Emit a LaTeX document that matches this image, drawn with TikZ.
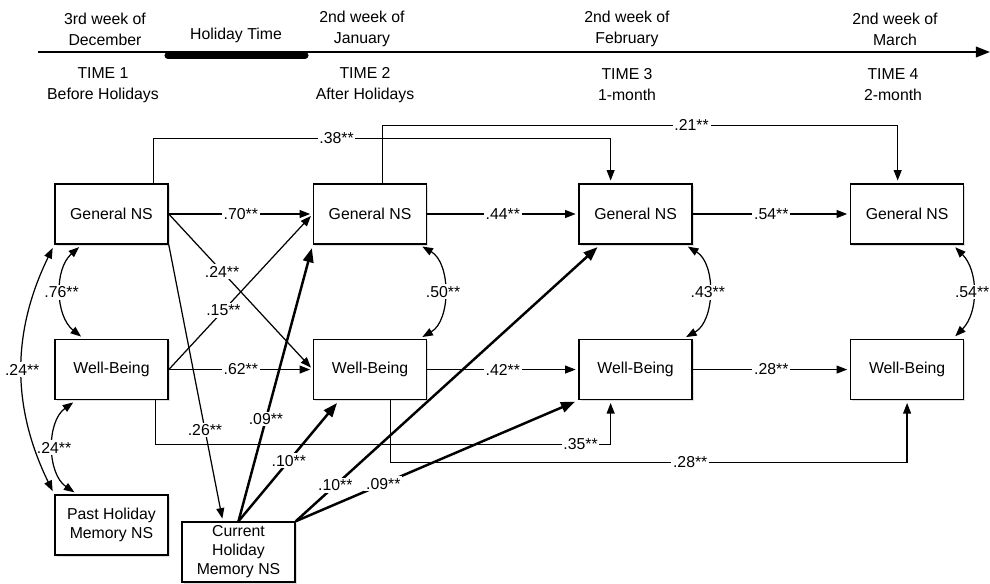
\documentclass[tikz,border=0pt]{standalone}
\usepackage{fontspec}
\setmainfont{Liberation Sans}
\usetikzlibrary{positioning}
\usetikzlibrary{arrows.meta}
\usetikzlibrary{shadows}

\begin{document}
\begin{tikzpicture}[x=0.02cm, y=-0.02cm, font=\fontsize{9}{10.8}\selectfont,
  var/.style={draw, line width=0.9pt, fill=white, minimum width=2.26cm, minimum height=1.2cm, inner sep=0pt, align=center,
              drop shadow={shadow xshift=1pt, shadow yshift=-1pt, opacity=0.25}},
  arr/.style={line width=0.7pt, -{Triangle[length=6pt,width=4.5pt]}, shorten >=1.5pt},
  thickarr/.style={line width=1.4pt, -{Triangle[length=8pt,width=6pt]}, shorten >=2pt},
  cov/.style={line width=0.7pt, {Triangle[length=6pt,width=4.5pt]}-{Triangle[length=6pt,width=4.5pt]}, shorten <=2pt, shorten >=2pt},
  coef/.style={fill=white, inner sep=1pt},
  when/.style={align=center, font=\fontsize{9}{12}\selectfont}]
%\draw [help lines] (0,0) grid (990,584);
\useasboundingbox (0,0) rectangle (990,584);

% Time line
\coordinate (tl0) at (38,52);
\coordinate (tl1) at (990,52);
\coordinate (hol0) at (168,55.5);
\coordinate (hol1) at (305,55.5);
\draw[line width=1.1pt, -{Triangle[length=8pt,width=6pt]}] (tl0) -- (tl1);
\draw[line width=4pt, line cap=round] (hol0) -- (hol1);

\node[when] (wk1) at (105,29)  {3rd week of\\December};
\node[when] (hol) at (236,35)  {Holiday Time};
\node[when] (wk2) at (362,29)  {2nd week of\\January};
\node[when] (wk3) at (627,29)  {2nd week of\\February};
\node[when] (wk4) at (895,29)  {2nd week of\\March};

\node[when] (t1) at (103,85)   {TIME 1\\Before Holidays};
\node[when] (t2) at (365,85)   {TIME 2\\After Holidays};
\node[when] (t3) at (627,85)   {TIME 3\\1-month};
\node[when] (t4) at (893,85)   {TIME 4\\2-month};

% Variables
\node[var] (gns1) at (111.5,214)           {General NS};
\node[var, right = 2.88cm of gns1] (gns2)  {General NS};
\node[var, right = 3.02cm of gns2] (gns3)  {General NS};
\node[var, right = 3.14cm of gns3] (gns4)  {General NS};

\node[var, below = 1.88cm of gns1] (wb1)   {Well-Being};
\node[var, below = 1.88cm of gns2] (wb2)   {Well-Being};
\node[var, below = 1.88cm of gns3] (wb3)   {Well-Being};
\node[var, below = 1.88cm of gns4] (wb4)   {Well-Being};

\node[var, below = 1.88cm of wb1] (past)   {Past Holiday\\Memory NS};
\node[var] (cur) at (238.5,552)            {Current\\Holiday\\Memory NS};

% Edges
\draw[arr] (gns1.east) -- node[coef] {.70**} (gns2.west);
\draw[arr] (gns2.east) -- node[coef] {.44**} (gns3.west);
\draw[arr] (gns3.east) -- node[coef] {.54**} (gns4.west);
\draw[arr] (wb1.east)  -- node[coef] {.62**} (wb2.west);
\draw[arr] (wb2.east)  -- node[coef] {.42**} (wb3.west);
\draw[arr] (wb3.east)  -- node[coef] {.28**} (wb4.west);

\draw[arr] (gns1.east) -- node[coef, pos=0.37] {.24**} (wb2.west);
\draw[arr] (wb1.east)  -- node[coef, pos=0.38] {.15**} (gns2.west);
\draw[arr] (gns1.south east) -- node[coef, pos=0.67] {.26**} (cur.117);

\draw[arr] (gns1.36)  -- ++(0,-45) -| node[coef, pos=0.2]   {.38**} (gns3.129);
\draw[arr] (gns2.68)  -- ++(0,-58) -| node[coef, pos=0.3]   {.21**} (gns4.107);
\draw[arr] (wb1.325)  -- ++(0,44)  -| node[coef, pos=0.467] {.35**} (wb3.231);
\draw[arr] (wb2.304)  -- ++(0,62)  -| node[coef, pos=0.29]  {.28**} (wb4.south);

\draw[thickarr] (cur.north) -- node[coef, pos=0.37] {.09**} (gns2.south west);
\draw[thickarr] (cur.north) -- node[coef, pos=0.5]  {.10**} (wb2.225);
\draw[thickarr] (cur.north east) -- node[coef, pos=0.13] {.10**} (gns3.221);
\draw[thickarr] (cur.north east) -- node[coef, pos=0.31] {.09**} (wb3.south west);

% Covariances
\draw[cov] (gns1.226) to[bend right=50] node[coef] {.76**} (wb1.132);
\draw[cov] (wb1.221)  to[bend right=55] node[coef] {.24**} (past.138);
\draw[cov] (gns1.south west) to[bend right=26] node[coef] {.24**} (past.north west);
\draw[cov] (gns2.328) to[bend left=60] node[coef] {.50**} (wb2.32);
\draw[cov] (gns3.328) to[bend left=60] node[coef] {.43**} (wb3.33);
\draw[cov] (gns4.326) to[bend left=45] node[coef] {.54**} (wb4.34);
\end{tikzpicture}
\end{document}
